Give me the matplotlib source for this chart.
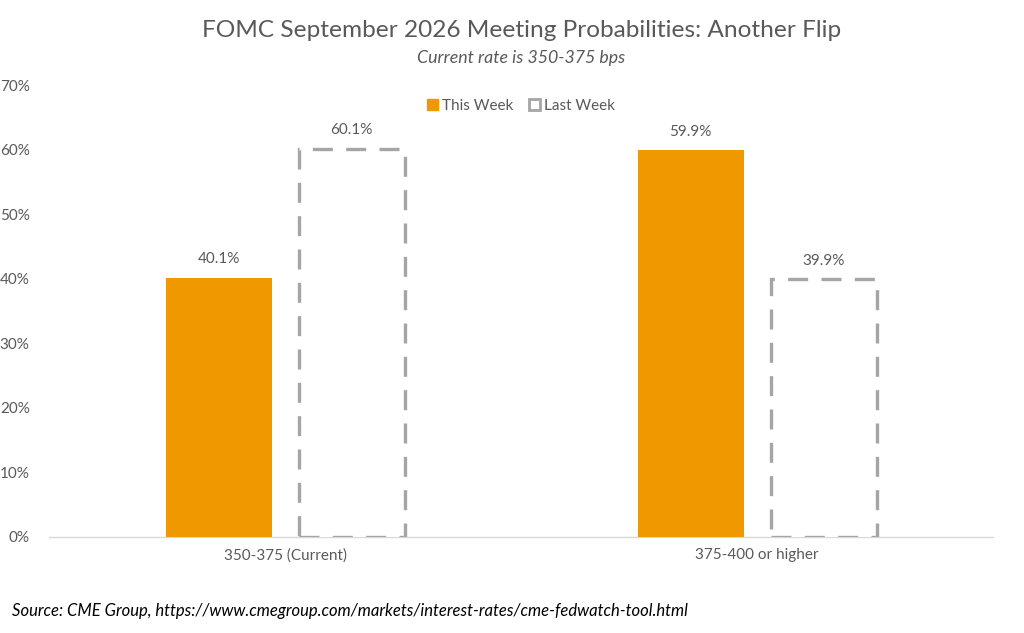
import matplotlib
matplotlib.use("Agg")
import matplotlib.pyplot as plt
import numpy as np
from matplotlib.ticker import FuncFormatter, MultipleLocator
from matplotlib.patches import Patch

plt.rcParams['font.family'] = ['Lato', 'DejaVu Sans']

categories = ["350-375 (Current)", "375-400 or higher"]
this_week = [40.1, 59.9]
last_week = [60.1, 39.9]
series_names = ["This Week", "Last Week"]

orange = "#F09800"
grey = "#A5A5A5"
text_col = "#595959"

fig = plt.figure(figsize=(10.24, 6.33), dpi=100)
ax = fig.add_axes([0.048, 0.1517, 0.922, 0.714])

x = np.arange(len(categories))
w = 0.225
off = 0.141

rects1 = ax.bar(x - off, this_week, w, color=orange, zorder=3)
rects2 = ax.bar(x + off, last_week, w, facecolor="white", edgecolor=grey,
                linewidth=2.4, linestyle=(0, (6, 4)), zorder=3)

for rects in (rects1, rects2):
    for r in rects:
        ax.text(r.get_x() + r.get_width() / 2, r.get_height() + 1.8,
                f"{r.get_height():.1f}%", ha="center", va="bottom",
                fontsize=11, color=text_col)

ax.set_xlim(-0.5, 1.5)
ax.set_ylim(0, 70)
ax.yaxis.set_major_locator(MultipleLocator(10))
ax.yaxis.set_major_formatter(FuncFormatter(lambda v, _: f"{int(v)}%"))
ax.set_xticks(x)
ax.set_xticklabels(categories)
ax.tick_params(axis="both", length=0, colors=text_col, labelsize=11)
ax.tick_params(axis="y", pad=14)
ax.tick_params(axis="x", pad=8)
for s in ["top", "right", "left"]:
    ax.spines[s].set_visible(False)
ax.spines["bottom"].set_color("#D9D9D9")
ax.spines["bottom"].set_linewidth(1)

handles = [Patch(facecolor=orange, edgecolor=orange),
           Patch(facecolor="white", edgecolor=grey, linewidth=2)]
leg = ax.legend(handles, series_names, loc="upper center",
                bbox_to_anchor=(0.5, 1.0), ncol=2, frameon=False,
                fontsize=11, handlelength=0.7, handleheight=0.7,
                handletextpad=0.3, columnspacing=1.0)
for t in leg.get_texts():
    t.set_color(text_col)

cx = 0.048 + 0.922 / 2
fig.text(cx, 0.952, "FOMC September 2026 Meeting Probabilities: Another Flip",
         ha="center", va="center", fontsize=17.6, color=text_col)
fig.text(cx, 0.908, "Current rate is 350-375 bps", ha="center", va="center",
         fontsize=12.8, style="italic", color=text_col)
fig.text(0.012, 0.035,
         "Source: CME Group, https://www.cmegroup.com/markets/interest-rates/cme-fedwatch-tool.html",
         ha="left", va="center", fontsize=12, style="italic", color="black")

fig.savefig("out.png", dpi=100)
